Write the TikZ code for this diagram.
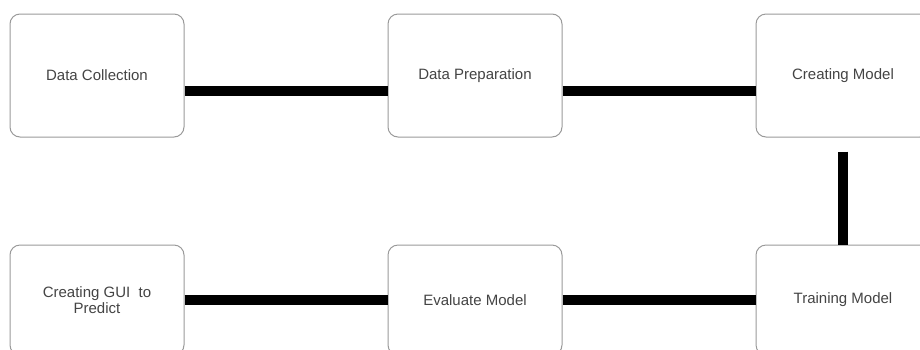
\documentclass[tikz,border=0pt]{standalone}
\usepackage{fontspec}
\setmainfont{Liberation Sans}
\definecolor{boxline}{HTML}{9A9A9A}
\definecolor{txt}{HTML}{444444}
\begin{document}
\begin{tikzpicture}[x=1pt,y=-1pt,
  stepbox/.style={draw=boxline,line width=1pt,rounded corners=10pt,fill=white,
    minimum width=174pt,minimum height=123pt,inner sep=0pt,align=center,
    text=txt,font=\fontsize{15}{16}\selectfont},
  conn/.style={line width=10.5pt,black}]
\useasboundingbox (0,0) rectangle (920,349);
\clip (0,0) rectangle (920,349);
\node[stepbox] (dc) at (97,75.5) {Data Collection};
\node[stepbox] (dp) at (475,75.5) {Data Preparation};
\node[stepbox] (cm) at (843,75.5) {Creating Model};
\node[stepbox,minimum height=110pt] (gui) at (97,300) {Creating GUI~ to\\ Predict};
\node[stepbox,minimum height=110pt] (ev) at (475,300) {Evaluate Model};
\node[stepbox,minimum height=110pt] (tm) at (843,300) {Training Model};
\draw[conn] ([yshift=-15.5pt]dc.east) -- ([yshift=-15.5pt]dp.west);
\draw[conn] ([yshift=-15.5pt]dp.east) -- ([yshift=-15.5pt]cm.west);
\draw[conn] ([yshift=-14pt]cm.south) -- (tm.north);
\draw[conn] (gui.east) -- (ev.west);
\draw[conn] (ev.east) -- (tm.west);
\end{tikzpicture}
\end{document}
